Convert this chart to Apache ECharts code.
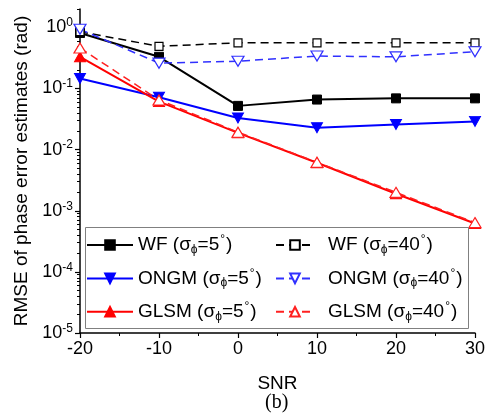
<!DOCTYPE html>
<html>
<head>
<meta charset="utf-8">
<script src="https://cdn.jsdelivr.net/npm/echarts@6/dist/echarts.min.js"></script>
<style>
  html, body { margin: 0; padding: 0; background: #fff; }
  #chart { width: 488px; height: 417px; }
</style>
</head>
<body>
<div id="chart"></div>
<script>
// SNR (dB) on x, RMSE (rad) on log y
const snr = [-20, -10, 0, 10, 20, 30];
const wf5 = [0.81, 0.33, 0.052, 0.066, 0.069, 0.069];
const wf40 = [0.85, 0.49, 0.56, 0.56, 0.56, 0.56];
const ongm5 = [0.146, 0.072, 0.033, 0.0228, 0.0258, 0.029];
const ongm40 = [0.93, 0.26, 0.28, 0.34, 0.33, 0.40];
const glsm5 = [0.33, 0.061, 0.0188, 0.0061, 0.0019, 0.00062];
const glsm40 = [0.46, 0.065, 0.0193, 0.0062, 0.002, 0.00064];
const yTicks = [1e-5, 1e-4, 1e-3, 1e-2, 1e-1, 1];

// minor log ticks 2..9 within each decade
let yMinor = [];
yTicks.forEach(d => {
    for (let k = 2; k <= 9; k++) {
        if (d * k <= 2) yMinor.push(d * k);
    }
});

const font = 'Liberation Sans, Arial, sans-serif';

let pairs = (ys) => snr.map((x, i) => [x, ys[i]]);

let legendName = (name) => {
    let m = name.match(/^([A-Z]+)(\d+)$/);
    return '{g|' + m[1] + ' (σ}{sub|ϕ}{g|=' + m[2] + '}{sup|°}{g|)}';
};
let legendRich = {
    g: { fontSize: 19, fontFamily: font, color: '#000', lineHeight: 24 },
    sub: { fontSize: 12, fontFamily: font, color: '#000', padding: [9, 0, 0, 0] },
    sup: { fontSize: 12, fontFamily: font, color: '#000', padding: [0, 1, 10, 1] }
};

let solid = (name, ys, color, symbol, size, rotate) => ({
    name: name,
    type: 'line',
    yAxisIndex: 0,
    data: pairs(ys),
    symbol: symbol,
    symbolSize: size,
    symbolRotate: rotate || 0,
    lineStyle: { color: color, width: 2 },
    itemStyle: { color: color, borderColor: color, borderWidth: 1 }
});
let dashed = (name, ys, color, symbol, size, rotate) => ({
    name: name,
    type: 'line',
    yAxisIndex: 0,
    data: pairs(ys),
    symbol: symbol,
    symbolSize: size,
    symbolRotate: rotate || 0,
    lineStyle: { color: color, width: 1.5, type: [8, 5] },
    itemStyle: { color: '#fff', borderColor: color, borderWidth: 1.2 }
});

let chart = echarts.init(document.getElementById('chart'));
let option = {
    animation: false,
    backgroundColor: '#fff',
    textStyle: { fontFamily: font },
    grid: { left: 80, right: 8, top: 9, bottom: 84 },
    xAxis: {
        type: 'value',
        min: -20,
        max: 30,
        interval: 10,
        name: 'SNR',
        nameLocation: 'middle',
        nameGap: 41,
        nameTextStyle: { fontSize: 19, color: '#000', fontFamily: font },
        axisLine: { onZero: false, lineStyle: { color: '#000', width: 1.5 } },
        axisTick: { length: 5, lineStyle: { color: '#000', width: 1.2 } },
        minorTick: { show: true, splitNumber: 2, length: 3, lineStyle: { color: '#000' } },
        axisLabel: { fontSize: 18, color: '#000', margin: 7, fontFamily: font },
        splitLine: { show: false }
    },
    yAxis: [
        {
            type: 'log',
            logBase: 10,
            min: 1e-5,
            max: 2,
            name: 'RMSE of phase error estimates (rad)',
            nameLocation: 'middle',
            nameGap: 49,
            nameTextStyle: { fontSize: 19, color: '#000', fontFamily: font },
            axisLine: { show: true, onZero: false, lineStyle: { color: '#000', width: 1.5 } },
            axisTick: { show: true, length: 5, customValues: yTicks, lineStyle: { color: '#000', width: 1.2 } },
            axisLabel: {
                customValues: yTicks,
                margin: 7,
                formatter: (v) => '{b|10}{e|' + Math.round(Math.log10(v)) + '}',
                rich: {
                    b: { fontSize: 18, color: '#000', fontFamily: font },
                    e: { fontSize: 12, color: '#000', fontFamily: font, padding: [0, 0, 9, 0] }
                }
            },
            splitLine: { show: false }
        },
        {
            // minor ticks only
            type: 'log',
            logBase: 10,
            min: 1e-5,
            max: 2,
            position: 'left',
            axisLine: { show: false, onZero: false },
            axisTick: { show: true, length: 3, customValues: yMinor, lineStyle: { color: '#000', width: 1 } },
            axisLabel: { show: false },
            splitLine: { show: false }
        }
    ],
    legend: [
        {
            data: ['WF5', 'ONGM5', 'GLSM5'],
            orient: 'vertical',
            left: 81,
            top: 229,
            itemWidth: 46,
            itemHeight: 12,
            itemGap: 11.9,
            formatter: legendName,
            textStyle: { color: '#000', fontFamily: font, rich: legendRich }
        },
        {
            data: ['WF40', 'ONGM40', 'GLSM40'],
            orient: 'vertical',
            left: 270,
            top: 229,
            itemWidth: 38,
            itemHeight: 12,
            itemGap: 11.9,
            formatter: legendName,
            textStyle: { color: '#000', fontFamily: font, rich: legendRich, padding: [0, 0, 0, 9] }
        }
    ],
    graphic: [
        {
            type: 'rect',
            left: 85,
            top: 227,
            shape: { width: 383, height: 101 },
            style: { fill: 'rgba(0,0,0,0)', stroke: '#808080', lineWidth: 1 },
            z: 5
        },
        {
            type: 'text',
            left: 265,
            top: 393,
            style: { text: '(b)', fontSize: 20, fontFamily: 'Liberation Serif, Times New Roman, serif', fill: '#000' }
        }
    ],
    series: [
        solid('WF5', wf5, '#000000', 'rect', 9),
        solid('ONGM5', ongm5, '#0000ff', 'triangle', [11, 10], 180),
        solid('GLSM5', glsm5, '#ff0000', 'triangle', [11, 10]),
        dashed('WF40', wf40, '#000000', 'rect', 8),
        dashed('ONGM40', ongm40, '#3030ff', 'triangle', [12, 10], 180),
        dashed('GLSM40', glsm40, '#ff2020', 'triangle', [12, 10])
    ]
};
chart.setOption(option);
</script>
</body>
</html>
